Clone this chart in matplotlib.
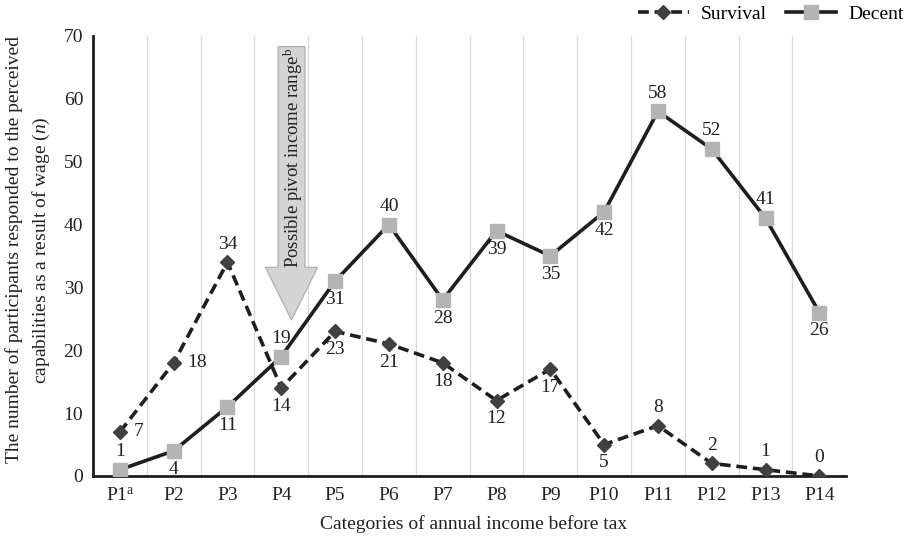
import matplotlib
matplotlib.use("Agg")
import matplotlib.pyplot as plt
from matplotlib.patches import FancyArrow

categories = ["P1$^{\\mathrm{a}}$", "P2", "P3", "P4", "P5", "P6", "P7", "P8", "P9",
              "P10", "P11", "P12", "P13", "P14"]
survival = [7, 18, 34, 14, 23, 21, 18, 12, 17, 5, 8, 2, 1, 0]
decent = [1, 4, 11, 19, 31, 40, 28, 39, 35, 42, 58, 52, 41, 26]
# label placement per point: r=right, a=above, b=below
survival_pos = ["r", "r", "a", "b", "b", "b", "b", "b", "b", "b", "a", "a", "a", "a"]
decent_pos = ["a", "b", "b", "a", "b", "a", "b", "b", "b", "b", "a", "a", "a", "b"]

plt.rcParams["font.family"] = ["Liberation Serif", "DejaVu Serif"]
plt.rcParams["font.size"] = 14
plt.rcParams["mathtext.fontset"] = "custom"
plt.rcParams["mathtext.rm"] = "Liberation Serif"
plt.rcParams["mathtext.it"] = "Liberation Serif:italic"

fig = plt.figure(figsize=(9.07, 5.36), dpi=100)
ax = fig.add_axes([0.1025, 0.112, 0.8305, 0.821])
x = list(range(len(categories)))

ax.plot(x, survival, color="#1e1e1e", lw=2.6, ls=(0, (3, 1.6)), marker="D",
        ms=7, mfc="#404040", mec="#404040", label="Survival", zorder=3)
ax.plot(x, decent, color="#1e1e1e", lw=2.6, marker="s", ms=10,
        mfc="#b4b4b4", mec="#b4b4b4", label="Decent", zorder=4)

offsets = {"r": (10, 0, "left", "center"), "a": (0, 7, "center", "bottom"),
           "b": (0, -7, "center", "top")}
for vals, pos in ((survival, survival_pos), (decent, decent_pos)):
    for xi, v, p in zip(x, vals, pos):
        dx, dy, ha, va = offsets[p]
        ax.annotate(str(v), (xi, v), xytext=(dx, dy), textcoords="offset points",
                    ha=ha, va=va, fontsize=14, color="#222222", zorder=5)

arrow = FancyArrow(3.19, 68.3, 0, -43.5, width=0.5, head_width=0.97,
                   head_length=8.4, length_includes_head=True,
                   fc="#d4d4d4", ec="#a8a8a8", lw=0.8, zorder=2)
ax.add_patch(arrow)
ax.text(3.22, 50.6, "Possible pivot income range$^{\\mathrm{b}}$", rotation=90,
        ha="center", va="center", fontsize=13.5, color="#222222", zorder=3)

ax.set_xlim(-0.5, len(categories) - 0.5)
ax.set_ylim(0, 70)
ax.set_yticks(range(0, 71, 10))
ax.set_xticks(x)
ax.set_xticklabels(categories)
ax.set_xticks([i + 0.5 for i in x[:-1]], minor=True)
ax.grid(axis="x", which="minor", color="#d9d9d9", lw=0.9)
ax.tick_params(which="both", length=0, labelcolor="#222222")
ax.tick_params(axis="y", pad=7)
ax.tick_params(axis="x", pad=8)
for side in ("top", "right"):
    ax.spines[side].set_visible(False)
for side in ("left", "bottom"):
    ax.spines[side].set_linewidth(2)
    ax.spines[side].set_color("#1e1e1e")

ax.set_xlabel("Categories of annual income before tax", fontsize=14,
              color="#222222")
ax.xaxis.set_label_coords(0.505, -0.088)
ax.set_ylabel("The number of participants responded to the perceived\n"
              "capabilities as a result of wage ($n$)", fontsize=14,
              color="#222222", linespacing=1.55)
ax.yaxis.set_label_coords(-0.054, 0.514)

fig.legend(*ax.get_legend_handles_labels(), loc="center right",
           bbox_to_anchor=(0.996, 0.974), ncol=2, frameon=False, fontsize=14,
           handlelength=2.6, handletextpad=0.6, columnspacing=1.0,
           borderaxespad=0.0, borderpad=0.0)

fig.savefig("out.png", dpi=100)
